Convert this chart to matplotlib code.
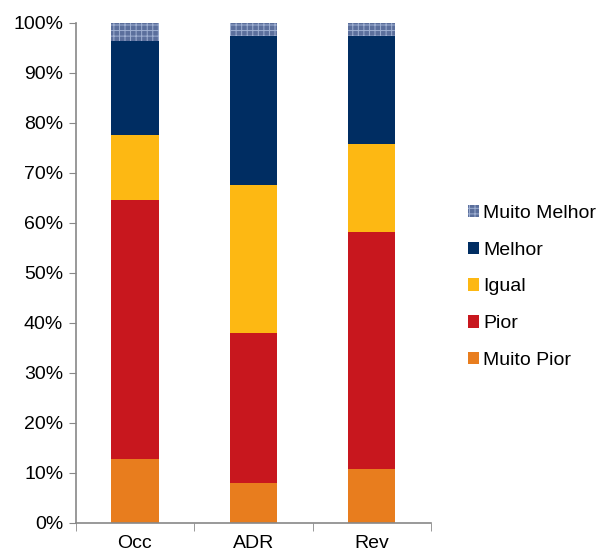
import matplotlib
matplotlib.use('Agg')
import matplotlib.pyplot as plt
import numpy as np

plt.rcParams['font.family'] = ['Liberation Sans', 'DejaVu Sans']
plt.rcParams['hatch.color'] = '#9fb0d2'
plt.rcParams['hatch.linewidth'] = 0.7

categories = ['Occ', 'ADR', 'Rev']
muito_pior = [12.8, 8.0, 10.7]
pior = [51.8, 30.0, 47.5]
igual = [13.0, 29.5, 17.5]
melhor = [18.8, 29.8, 21.6]
muito_melhor = [3.6, 2.7, 2.7]

series = [
    ('Muito Pior', muito_pior, '#e87d1e', None),
    ('Pior', pior, '#c8171e', None),
    ('Igual', igual, '#fdb813', None),
    ('Melhor', melhor, '#002d62', None),
    ('Muito Melhor', muito_melhor, '#5b6f9c', '+++'),
]

fig = plt.figure(figsize=(6.01, 5.55), dpi=100)
ax = fig.add_axes([0.126, 0.0577, 0.591, 0.901])

x = np.arange(len(categories))
bottom = np.zeros(len(categories))
handles = []
for name, vals, color, hatch in series:
    vals = np.array(vals) / 100.0
    b = ax.bar(x, vals, 0.4, bottom=bottom, color=color, hatch=hatch,
               edgecolor='#9fb0d2' if hatch else 'none', linewidth=0, label=name)
    bottom += vals
    handles.append(b)

ax.set_xlim(-0.5, 2.5)
ax.set_ylim(0, 1)
ax.set_yticks(np.arange(0, 1.01, 0.1))
ax.set_yticklabels([f'{int(round(v * 100))}%' for v in np.arange(0, 1.01, 0.1)])
ax.set_xticks(x)
ax.set_xticklabels(categories)
ax.set_xticks([-0.5, 0.5, 1.5, 2.5], minor=True)
ax.tick_params(axis='x', which='major', length=0, labelsize=14, pad=9)
ax.tick_params(axis='x', which='minor', length=6, color='#888888', direction='out')
ax.tick_params(axis='y', length=5, color='#888888', labelsize=14, pad=4)

for s in ['top', 'right']:
    ax.spines[s].set_visible(False)
for s in ['left', 'bottom']:
    ax.spines[s].set_color('#888888')
    ax.spines[s].set_linewidth(1.2)

leg = fig.legend(handles[::-1], [h.get_label() for h in handles[::-1]],
                 loc='center left', bbox_to_anchor=(0.765, 0.483), frameon=False,
                 fontsize=14, handlelength=0.6, handleheight=0.6, handletextpad=0.2,
                 labelspacing=1.02, borderaxespad=0)

fig.savefig('out.png', dpi=100)
